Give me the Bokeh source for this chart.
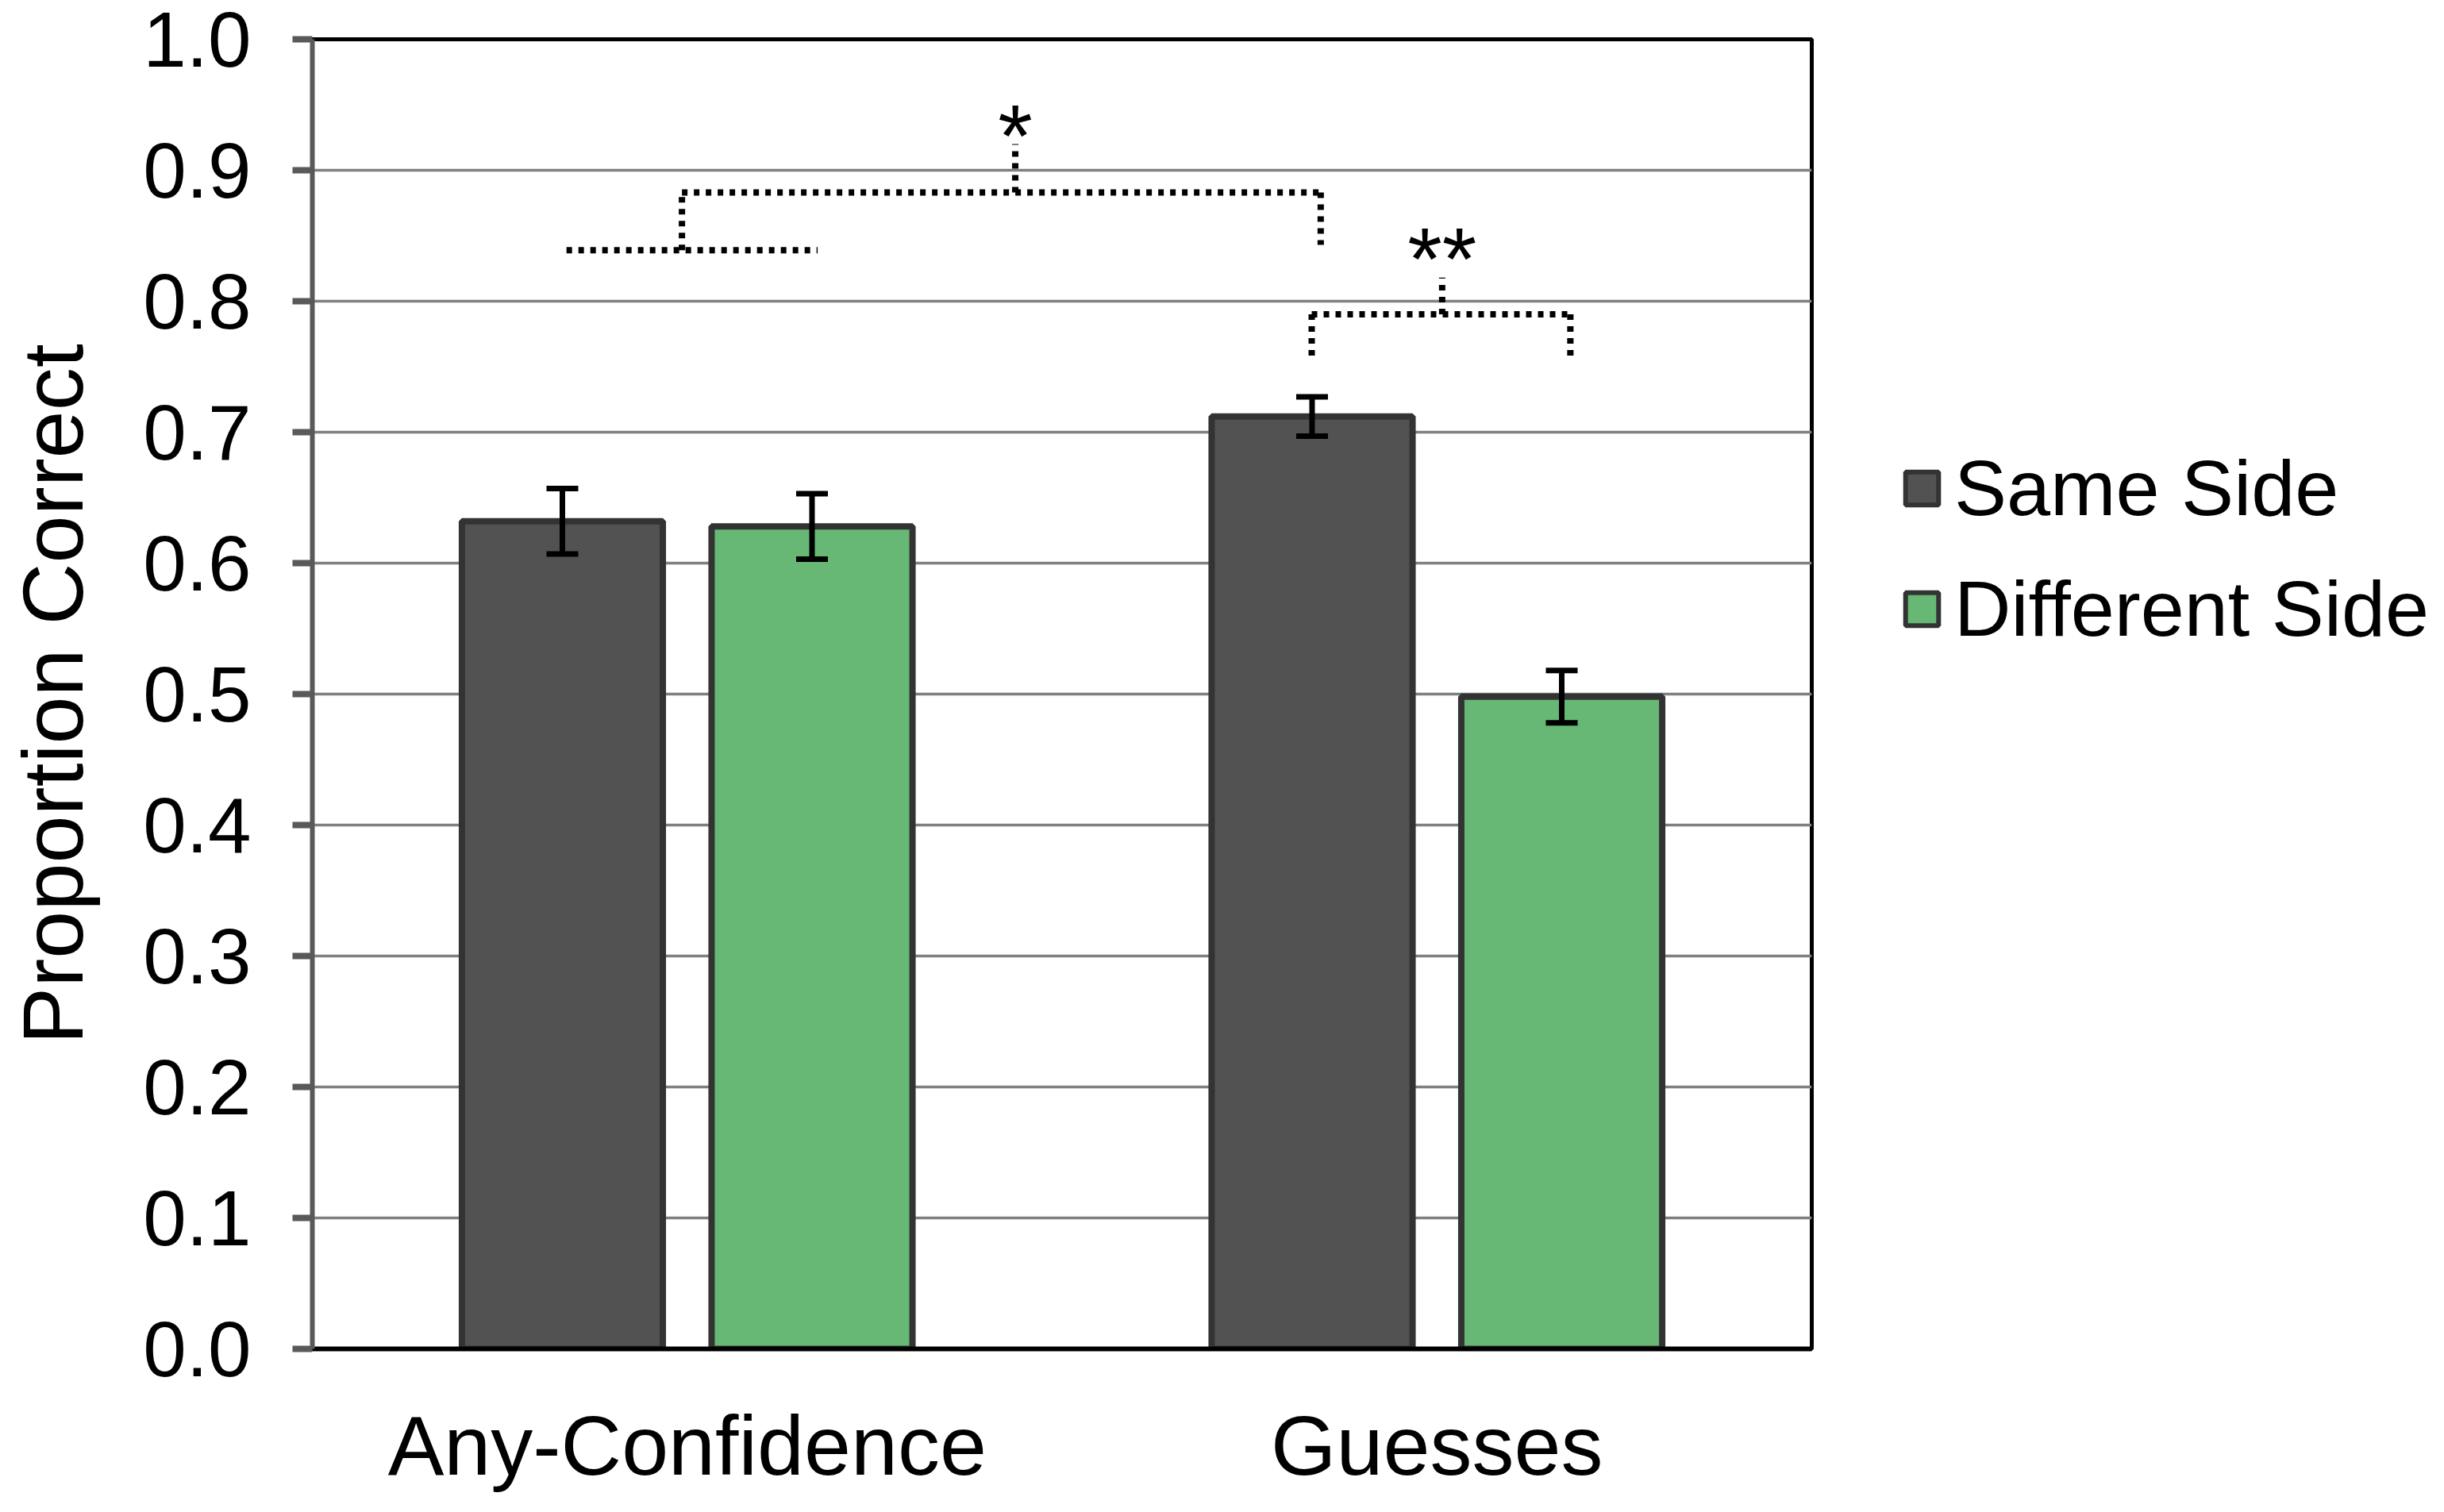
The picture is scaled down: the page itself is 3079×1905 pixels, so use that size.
from bokeh.plotting import figure
from bokeh.layouts import row
from bokeh.models import (ColumnDataSource, FactorRange, Range1d, FixedTicker,
                          NumeralTickFormatter, Whisker, TeeHead, Legend, LegendItem)
from bokeh.transform import dodge
from bokeh.embed import file_html
from bokeh.resources import INLINE

# ---------------- data ----------------
categories = ["Any-Confidence", "Guesses"]
series_names = ["Same Side", "Different Side"]
same_side = [0.632, 0.712]
same_err = [0.025, 0.015]
diff_side = [0.628, 0.498]
diff_err = [0.025, 0.020]
y_ticks = [0.0, 0.1, 0.2, 0.3, 0.4, 0.5, 0.6, 0.7, 0.8, 0.9, 1.0]

# significance brackets (synthetic category coordinates, value units)
sig1_segments_x = [[0.339, 0.674], [0.493, 0.493], [0.493, 1.345], [1.345, 1.345], [0.9376, 0.9376]]
sig1_segments_y = [[0.839, 0.839], [0.839, 0.883], [0.883, 0.883], [0.883, 0.843], [0.883, 0.920]]
sig2_segments_x = [[1.333, 1.678], [1.333, 1.333], [1.678, 1.678], [1.507, 1.507]]
sig2_segments_y = [[0.790, 0.790], [0.790, 0.755], [0.790, 0.755], [0.790, 0.818]]
sig_labels = ["*", "**"]
sig_label_x = [0.9376, 1.507]
sig_label_y = [0.926, 0.832]

SAME_COLOR = "#525252"
DIFF_COLOR = "#66B874"
EDGE = "#333333"
FONT = "Liberation Sans"

src = ColumnDataSource(dict(
    cat=categories,
    same=same_side,
    same_lo=[v - e for v, e in zip(same_side, same_err)],
    same_hi=[v + e for v, e in zip(same_side, same_err)],
    diff=diff_side,
    diff_lo=[v - e for v, e in zip(diff_side, diff_err)],
    diff_hi=[v + e for v, e in zip(diff_side, diff_err)],
))

TOTAL_W, H = 3063, 1889
FRAME_L, FRAME_R, FRAME_T, FRAME_B = 393, 2282, 49, 1699
W1 = FRAME_R + 20
W2 = TOTAL_W - W1

p = figure(width=W1, height=H, output_backend="svg", toolbar_location=None,
           x_range=FactorRange(factors=categories, range_padding=0),
           y_range=Range1d(0, 1.0),
           min_border_left=FRAME_L, min_border_right=W1 - FRAME_R,
           min_border_top=FRAME_T, min_border_bottom=H - FRAME_B)
p.background_fill_color = "white"
p.border_fill_color = "white"
p.outline_line_color = "black"
p.outline_line_width = 5

OFF = 0.1665
BW = 0.268
p.vbar(x=dodge("cat", -OFF, range=p.x_range), top="same", width=BW, source=src,
       fill_color=SAME_COLOR, line_color=EDGE, line_width=8)
p.vbar(x=dodge("cat", OFF, range=p.x_range), top="diff", width=BW, source=src,
       fill_color=DIFF_COLOR, line_color=EDGE, line_width=8)

for off, lo, hi in [(-OFF, "same_lo", "same_hi"), (OFF, "diff_lo", "diff_hi")]:
    w = Whisker(source=src, base=dodge("cat", off, range=p.x_range), lower=lo, upper=hi,
                line_color="black", line_width=7, level="overlay",
                upper_head=TeeHead(size=40, line_color="black", line_width=7),
                lower_head=TeeHead(size=40, line_color="black", line_width=7))
    p.add_layout(w)

for xs, ys in [(sig1_segments_x, sig1_segments_y), (sig2_segments_x, sig2_segments_y)]:
    p.multi_line(xs=xs, ys=ys, line_color="black", line_width=8, line_dash="7 8",
                 line_cap="butt")

p.text(x=sig_label_x, y=sig_label_y, text=sig_labels, text_align="center",
       text_baseline="alphabetic", text_font_size="112px", text_color="black",
       text_font={"value": FONT})

# axes
p.yaxis.ticker = FixedTicker(ticks=y_ticks)
p.yaxis.formatter = NumeralTickFormatter(format="0.0")
p.yaxis.axis_label = "Proportion Correct"
p.yaxis.axis_label_text_font = FONT
p.yaxis.axis_label_text_font_style = "normal"
p.yaxis.axis_label_text_font_size = "108px"
p.yaxis.axis_label_text_color = "black"
p.yaxis.axis_label_standoff = 50
p.yaxis.major_label_text_font = FONT
p.yaxis.major_label_text_font_size = "98px"
p.yaxis.major_label_text_color = "black"
p.yaxis.major_label_standoff = 52
p.yaxis.axis_line_color = "#595959"
p.yaxis.axis_line_width = 6
p.yaxis.major_tick_line_color = "#595959"
p.yaxis.major_tick_line_width = 8
p.yaxis.major_tick_out = 25
p.yaxis.major_tick_in = 0
p.yaxis.minor_tick_line_color = None

p.xaxis.major_label_text_font = FONT
p.xaxis.major_label_text_font_size = "106px"
p.xaxis.major_label_text_color = "black"
p.xaxis.major_label_standoff = 56
p.xaxis.axis_line_color = "black"
p.xaxis.axis_line_width = 6
p.xaxis.major_tick_line_color = None
p.xaxis.minor_tick_line_color = None

p.xgrid.grid_line_color = None
p.ygrid.grid_line_color = "#808080"
p.ygrid.grid_line_width = 3.5
p.ygrid.ticker = FixedTicker(ticks=y_ticks)

# legend panel (separate canvas so that the legend is not clipped by the chart frame)
pl = figure(width=W2, height=H, output_backend="svg", toolbar_location=None,
            x_range=Range1d(0, 1), y_range=Range1d(0, 1),
            x_axis_location=None, y_axis_location=None,
            min_border_left=0, min_border_right=0, min_border_top=0, min_border_bottom=0)
pl.outline_line_color = None
pl.grid.visible = False
pl.background_fill_color = "white"
pl.border_fill_color = "white"
# swatch-only renderers (hidden): they only feed the legend
lg_same = pl.vbar(x=[-50], top=[-50], bottom=[-51], width=0.1, visible=False,
                  fill_color=SAME_COLOR, line_color=EDGE, line_width=6)
lg_diff = pl.vbar(x=[-50], top=[-50], bottom=[-51], width=0.1, visible=False,
                  fill_color=DIFF_COLOR, line_color=EDGE, line_width=6)

LEG_X, LEG_Y = 2395, 875
legend = Legend(items=[LegendItem(label=series_names[0], renderers=[lg_same]),
                       LegendItem(label=series_names[1], renderers=[lg_diff])],
                location=(LEG_X - W1, LEG_Y), orientation="vertical",
                glyph_width=52, glyph_height=52, label_standoff=15,
                label_text_font=FONT, label_text_font_size="99px",
                label_text_color="black", spacing=38, padding=0, margin=0,
                border_line_color=None, background_fill_alpha=0,
                inactive_fill_alpha=0)
pl.add_layout(legend, "center")

layout = row(p, pl, spacing=0)
open("out.html", "w").write(file_html(layout, INLINE))
